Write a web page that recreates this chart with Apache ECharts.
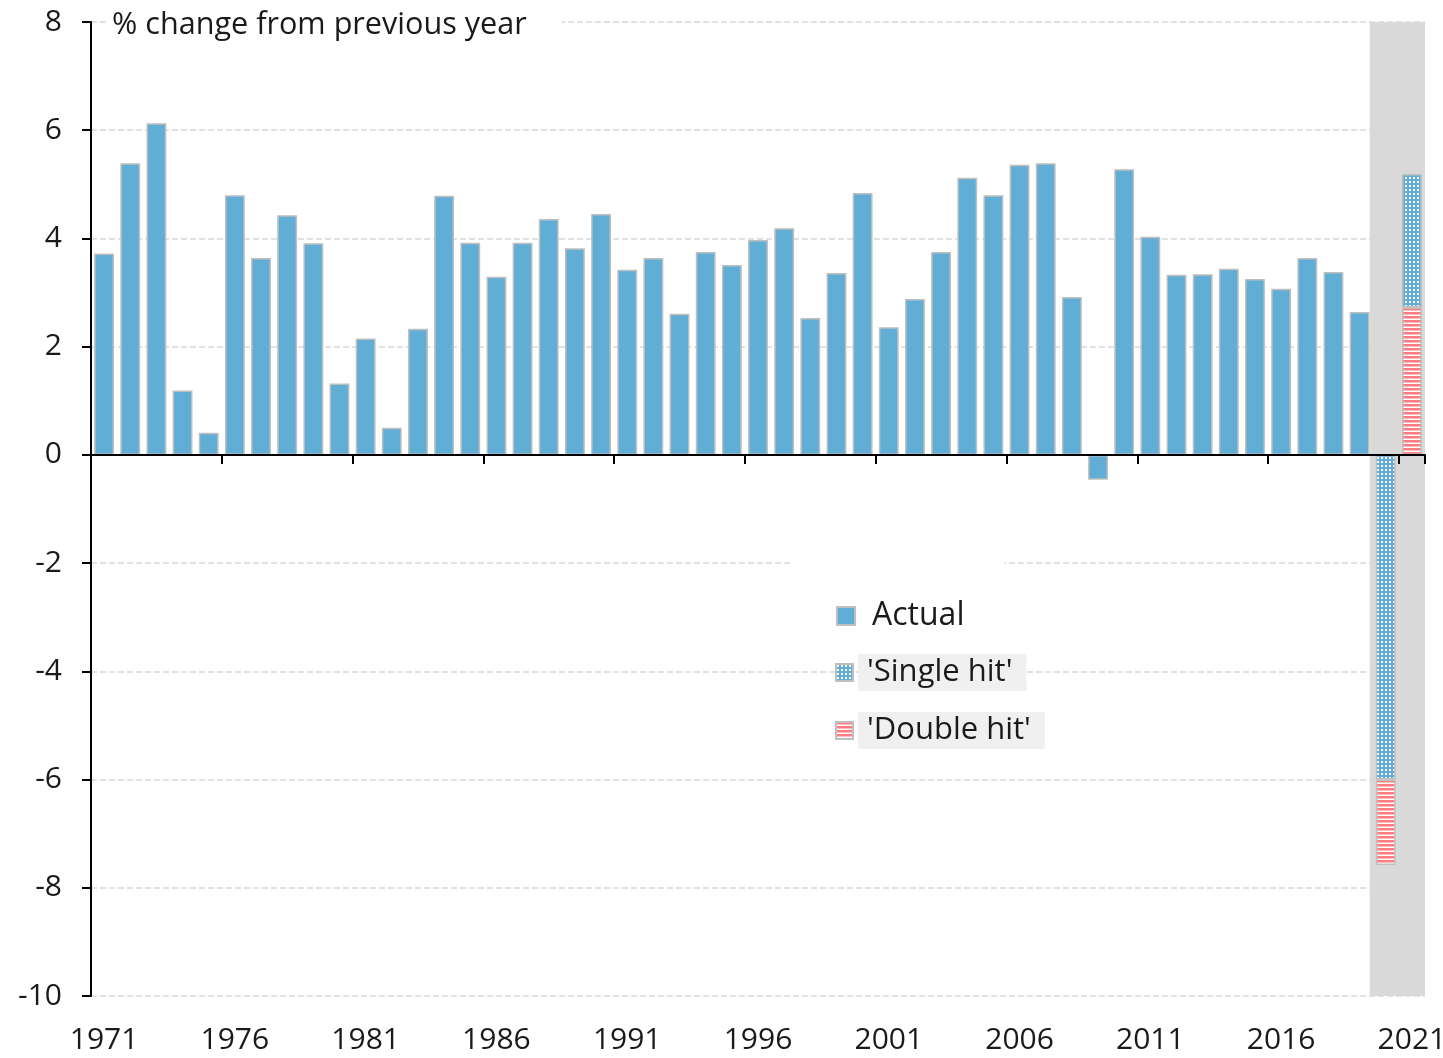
<!DOCTYPE html>
<html><head><meta charset="utf-8">
<script src="https://cdn.jsdelivr.net/npm/echarts@6/dist/echarts.min.js"></script>
<style>html,body{margin:0;padding:0;background:#fff}#c{width:1443px;height:1058px}</style>
</head><body><div id="c"></div>
<script>
const years = ['1971','1972','1973','1974','1975','1976','1977','1978','1979','1980',
  '1981','1982','1983','1984','1985','1986','1987','1988','1989','1990',
  '1991','1992','1993','1994','1995','1996','1997','1998','1999','2000',
  '2001','2002','2003','2004','2005','2006','2007','2008','2009','2010',
  '2011','2012','2013','2014','2015','2016','2017','2018','2019','2020','2021'];
const actual = [3.72,5.39,6.13,1.19,0.41,4.80,3.64,4.43,3.91,1.32,
  2.15,0.50,2.33,4.79,3.92,3.29,3.92,4.36,3.82,4.45,
  3.42,3.64,2.61,3.75,3.51,3.97,4.19,2.53,3.36,4.84,
  2.36,2.88,3.75,5.12,4.80,5.36,5.39,2.92,-0.46,5.28,
  4.03,3.33,3.34,3.44,3.25,3.07,3.64,3.38,2.64];
const scenarioYears = ['2020','2021'];
const singleHit = [-6.0, 2.46];   // 2020 below zero; 2021 stacked on top of double hit
const doubleHit = [-1.58, 2.73];
const shadedYears = ['2020','2021'];
const yTicks = {min:-10, max:8, interval:2};

const FONT = 'Open Sans';
const BLUE = '#60aed6';
const RED = '#ff7c80';

function makePattern(kind){
  const c = document.createElement('canvas');
  c.width = 4; c.height = 4;
  const g = c.getContext('2d');
  if (kind === 'dots') {
    g.fillStyle = BLUE; g.fillRect(0,0,4,4);
    g.fillStyle = '#ffffff'; g.fillRect(1,1,2,2);
  } else {
    g.fillStyle = '#ffffff'; g.fillRect(0,0,4,4);
    g.fillStyle = RED; g.fillRect(0,0,4,2.5);
  }
  return {image: c, repeat: 'repeat'};
}
const dotFill = makePattern('dots');
const stripeFill = makePattern('stripes');

function byYear(srcYears, vals){
  return years.map(y => { const i = srcYears.indexOf(y); return i < 0 ? '-' : vals[i]; });
}
const actualData = years.map((y,i) => i < actual.length ? actual[i] : '-');
const singleNeg = byYear(scenarioYears, singleHit.map(v => v < 0 ? v : '-'));
const singlePos = byYear(scenarioYears, singleHit.map(v => v >= 0 ? v : '-'));
const doubleData = byYear(scenarioYears, doubleHit);
const bandTop = byYear(shadedYears, shadedYears.map(() => yTicks.max));
const bandBot = byYear(shadedYears, shadedYears.map(() => yTicks.min));

const border = {borderColor:'#bfbfbf', borderWidth:1.5};
const GAP = '24%';
const chart = echarts.init(document.getElementById('c'), null, {renderer:'canvas'});
chart.setOption({
  animation:false,
  textStyle:{fontFamily:FONT},
  title:{
    text:'% change from previous year', left:106, top:6,
    padding:[2,35,2,6], backgroundColor:'#fff',
    textStyle:{fontFamily:FONT, fontSize:30.6, fontWeight:'normal', color:'#1a1a1a', lineHeight:34}
  },
  grid:{left:91, right:18, top:22, bottom:62, containLabel:false, outerBoundsMode:'none'},
  legend:[
    {
      data:[{name:'Actual'}], orient:'vertical', left:790, top:553,
      padding:[47,40,14,46], backgroundColor:'#fff',
      itemWidth:18, itemHeight:18, icon:'rect',
      textStyle:{fontFamily:FONT, fontSize:32, color:'#1a1a1a', padding:[0,0,0,12]}
    },
    {
      data:[
        {name:"'Single hit'", textStyle:{backgroundColor:'#f0f0f0', padding:[3,14,3,9]}},
        {name:"'Double hit'", textStyle:{backgroundColor:'#f0f0f0', padding:[3,14,3,9]}}
      ],
      orient:'vertical', left:835, top:654, padding:0, itemGap:21,
      itemWidth:17, itemHeight:17, icon:'rect',
      textStyle:{fontFamily:FONT, fontSize:31, color:'#1a1a1a'}
    }
  ],
  xAxis:[
    {
      type:'category', data:years, position:'bottom', z:10,
      axisLine:{onZero:true, lineStyle:{color:'#000', width:2}},
      axisTick:{show:true, interval:4, length:9, lineStyle:{color:'#000', width:2}},
      axisLabel:{show:false}
    },
    {
      type:'category', data:years, position:'bottom',
      axisLine:{show:false, onZero:false}, axisTick:{show:false},
      axisLabel:{interval:4, margin:29, fontFamily:FONT, fontSize:30, color:'#1a1a1a', hideOverlap:false}
    },
    {
      type:'category', data:years, show:false, position:'bottom'
    }
  ],
  yAxis:{
    type:'value', min:yTicks.min, max:yTicks.max, interval:yTicks.interval,
    axisLine:{show:true, lineStyle:{color:'#000', width:2}},
    axisTick:{show:true, length:9, lineStyle:{color:'#000', width:2}},
    axisLabel:{margin:29, fontFamily:FONT, fontSize:30, color:'#1a1a1a'},
    splitLine:{show:true, lineStyle:{color:'#d9d9d9', width:1.5, type:[6,3]}}
  },
  series:[
    {name:'band', type:'bar', xAxisIndex:2, stack:'band', data:bandTop, barWidth:32,
      silent:true, z:1, itemStyle:{color:'#d9d9d9'}},
    {name:'band2', type:'bar', xAxisIndex:2, stack:'band', data:bandBot, barWidth:32,
      silent:true, z:1, itemStyle:{color:'#d9d9d9'}},
    {name:'Actual', type:'bar', xAxisIndex:0, stack:'s', data:actualData,
      barCategoryGap:GAP, itemStyle:Object.assign({color:BLUE}, border)},
    {name:"'Single hit'", type:'bar', xAxisIndex:0, stack:'s', data:singleNeg,
      barCategoryGap:GAP, itemStyle:Object.assign({color:dotFill}, border)},
    {name:"'Double hit'", type:'bar', xAxisIndex:0, stack:'s', data:doubleData,
      barCategoryGap:GAP, itemStyle:Object.assign({color:stripeFill}, border)},
    {name:"'Single hit'", type:'bar', xAxisIndex:0, stack:'s', data:singlePos,
      barCategoryGap:GAP, itemStyle:Object.assign({color:dotFill}, border)}
  ]
});
</script></body></html>
